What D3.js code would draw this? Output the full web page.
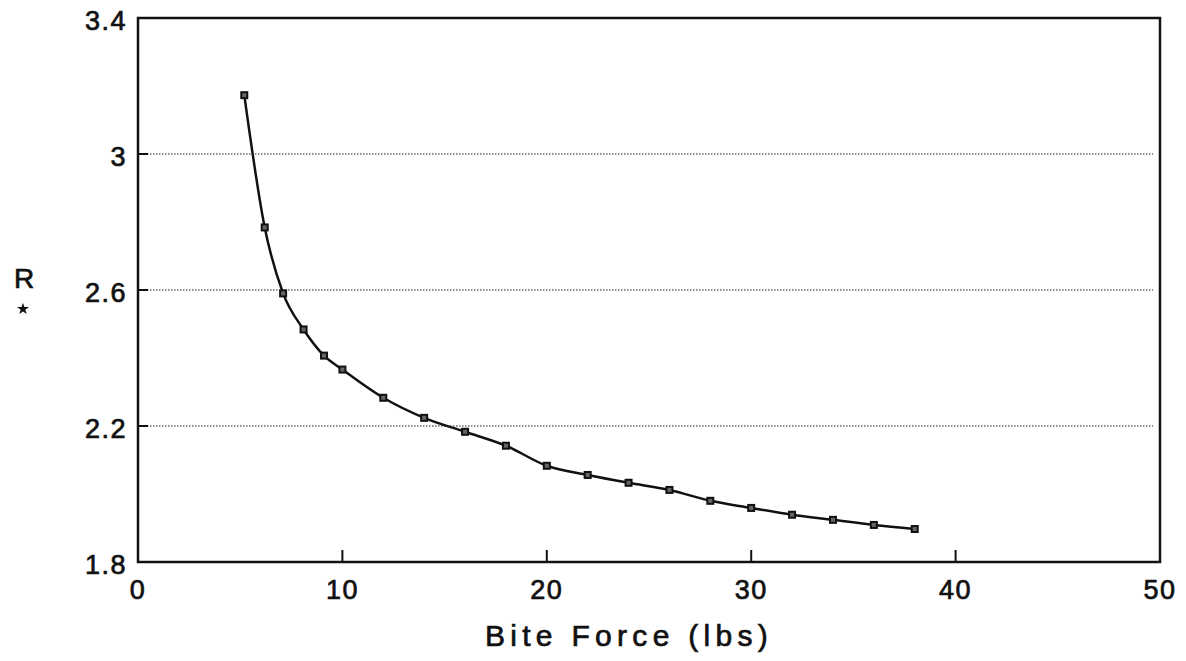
<!DOCTYPE html>
<html>
<head>
<meta charset="utf-8">
<script src="https://cdn.jsdelivr.net/npm/d3@7"></script>
<style>
  body { margin: 0; background: #fff; }
  text { font-family: "Liberation Sans", Arial, sans-serif; fill: #111; stroke: #111; stroke-width: 0.7px; }
</style>
</head>
<body>
<script>
// bite force (lbs) vs R*
var force = [5.2, 6.2, 7.1, 8.1, 9.1, 10, 12, 14, 16, 18, 20, 22, 24, 26, 28, 30, 32, 34, 36, 38];
var rstar = [3.173, 2.784, 2.590, 2.484, 2.407, 2.366, 2.283, 2.224, 2.183, 2.142,
             2.083, 2.056, 2.033, 2.012, 1.980, 1.959, 1.939, 1.924, 1.909, 1.897];
var xTicks = [0, 10, 20, 30, 40, 50];
var yTicks = [1.8, 2.2, 2.6, 3.0, 3.4];
var yGrid = [2.2, 2.6, 3.0];

var width = 1186, height = 661;
var margin = {top: 18, right: 26, bottom: 99, left: 138};

var x = d3.scaleLinear().domain([0, 50]).range([margin.left, width - margin.right]);
var y = d3.scaleLinear().domain([1.8, 3.4]).range([height - margin.bottom, margin.top]);

var svg = d3.select("body").append("svg")
    .attr("width", width)
    .attr("height", height);

// dotted gridlines
svg.append("g")
  .selectAll("line")
  .data(yGrid)
  .enter().append("line")
    .attr("x1", x(0))
    .attr("x2", x(50) - 7)
    .attr("y1", function(d) { return y(d); })
    .attr("y2", function(d) { return y(d); })
    .attr("stroke", "#222")
    .attr("stroke-width", 1.2)
    .attr("stroke-dasharray", "1.5,1.5");

// little solid ticks on the left axis
svg.append("g")
  .selectAll("line")
  .data(yGrid)
  .enter().append("line")
    .attr("x1", x(0))
    .attr("x2", x(0) + 10)
    .attr("y1", function(d) { return y(d); })
    .attr("y2", function(d) { return y(d); })
    .attr("stroke", "#111")
    .attr("stroke-width", 2);

// x ticks pointing up
svg.append("g")
  .selectAll("line")
  .data([10, 20, 30, 40])
  .enter().append("line")
    .attr("x1", function(d) { return x(d); })
    .attr("x2", function(d) { return x(d); })
    .attr("y1", y(1.8))
    .attr("y2", y(1.8) - 12)
    .attr("stroke", "#111")
    .attr("stroke-width", 2);

// frame
svg.append("rect")
    .attr("x", x(0))
    .attr("y", y(3.4))
    .attr("width", x(50) - x(0))
    .attr("height", y(1.8) - y(3.4))
    .attr("fill", "none")
    .attr("stroke", "#111")
    .attr("stroke-width", 2.5);

// tick labels
svg.append("g")
  .selectAll("text")
  .data(xTicks)
  .enter().append("text")
    .attr("x", function(d) { return x(d); })
    .attr("y", y(1.8) + 37)
    .attr("text-anchor", "middle")
    .attr("font-size", 27)
    .attr("letter-spacing", 1.5)
    .text(function(d) { return d; });

svg.append("g")
  .selectAll("text")
  .data(yTicks)
  .enter().append("text")
    .attr("x", x(0) - 11)
    .attr("y", function(d) { return y(d) + 12; })
    .attr("text-anchor", "end")
    .attr("font-size", 27)
    .attr("letter-spacing", 1.5)
    .text(function(d) { return d === 3 ? "3" : d3.format(".1f")(d); });

// axis titles
svg.append("text")
    .attr("x", 629)
    .attr("y", 646)
    .attr("text-anchor", "middle")
    .attr("font-size", 30)
    .attr("letter-spacing", 5.3)
    .text("Bite Force (lbs)");

svg.append("text")
    .attr("x", 24)
    .attr("y", 288)
    .attr("text-anchor", "middle")
    .attr("font-size", 28)
    .text("R");

svg.append("path")
    .attr("d", d3.symbol(d3.symbolStar).size(45)())
    .attr("transform", "translate(23,309)")
    .attr("fill", "#111");

// curve
var pts = force.map(function(f, i) { return [f, rstar[i]]; });

var line = d3.line()
    .x(function(d) { return x(d[0]); })
    .y(function(d) { return y(d[1]); })
    .curve(d3.curveMonotoneX);

svg.append("path")
    .datum(pts)
    .attr("d", line)
    .attr("fill", "none")
    .attr("stroke", "#111")
    .attr("stroke-width", 2.5);

svg.append("g")
  .selectAll("rect")
  .data(pts)
  .enter().append("rect")
    .attr("x", function(d) { return x(d[0]) - 3; })
    .attr("y", function(d) { return y(d[1]) - 3; })
    .attr("width", 6)
    .attr("height", 6)
    .attr("fill", "#666")
    .attr("stroke", "#111")
    .attr("stroke-width", 2);
</script>
</body>
</html>
